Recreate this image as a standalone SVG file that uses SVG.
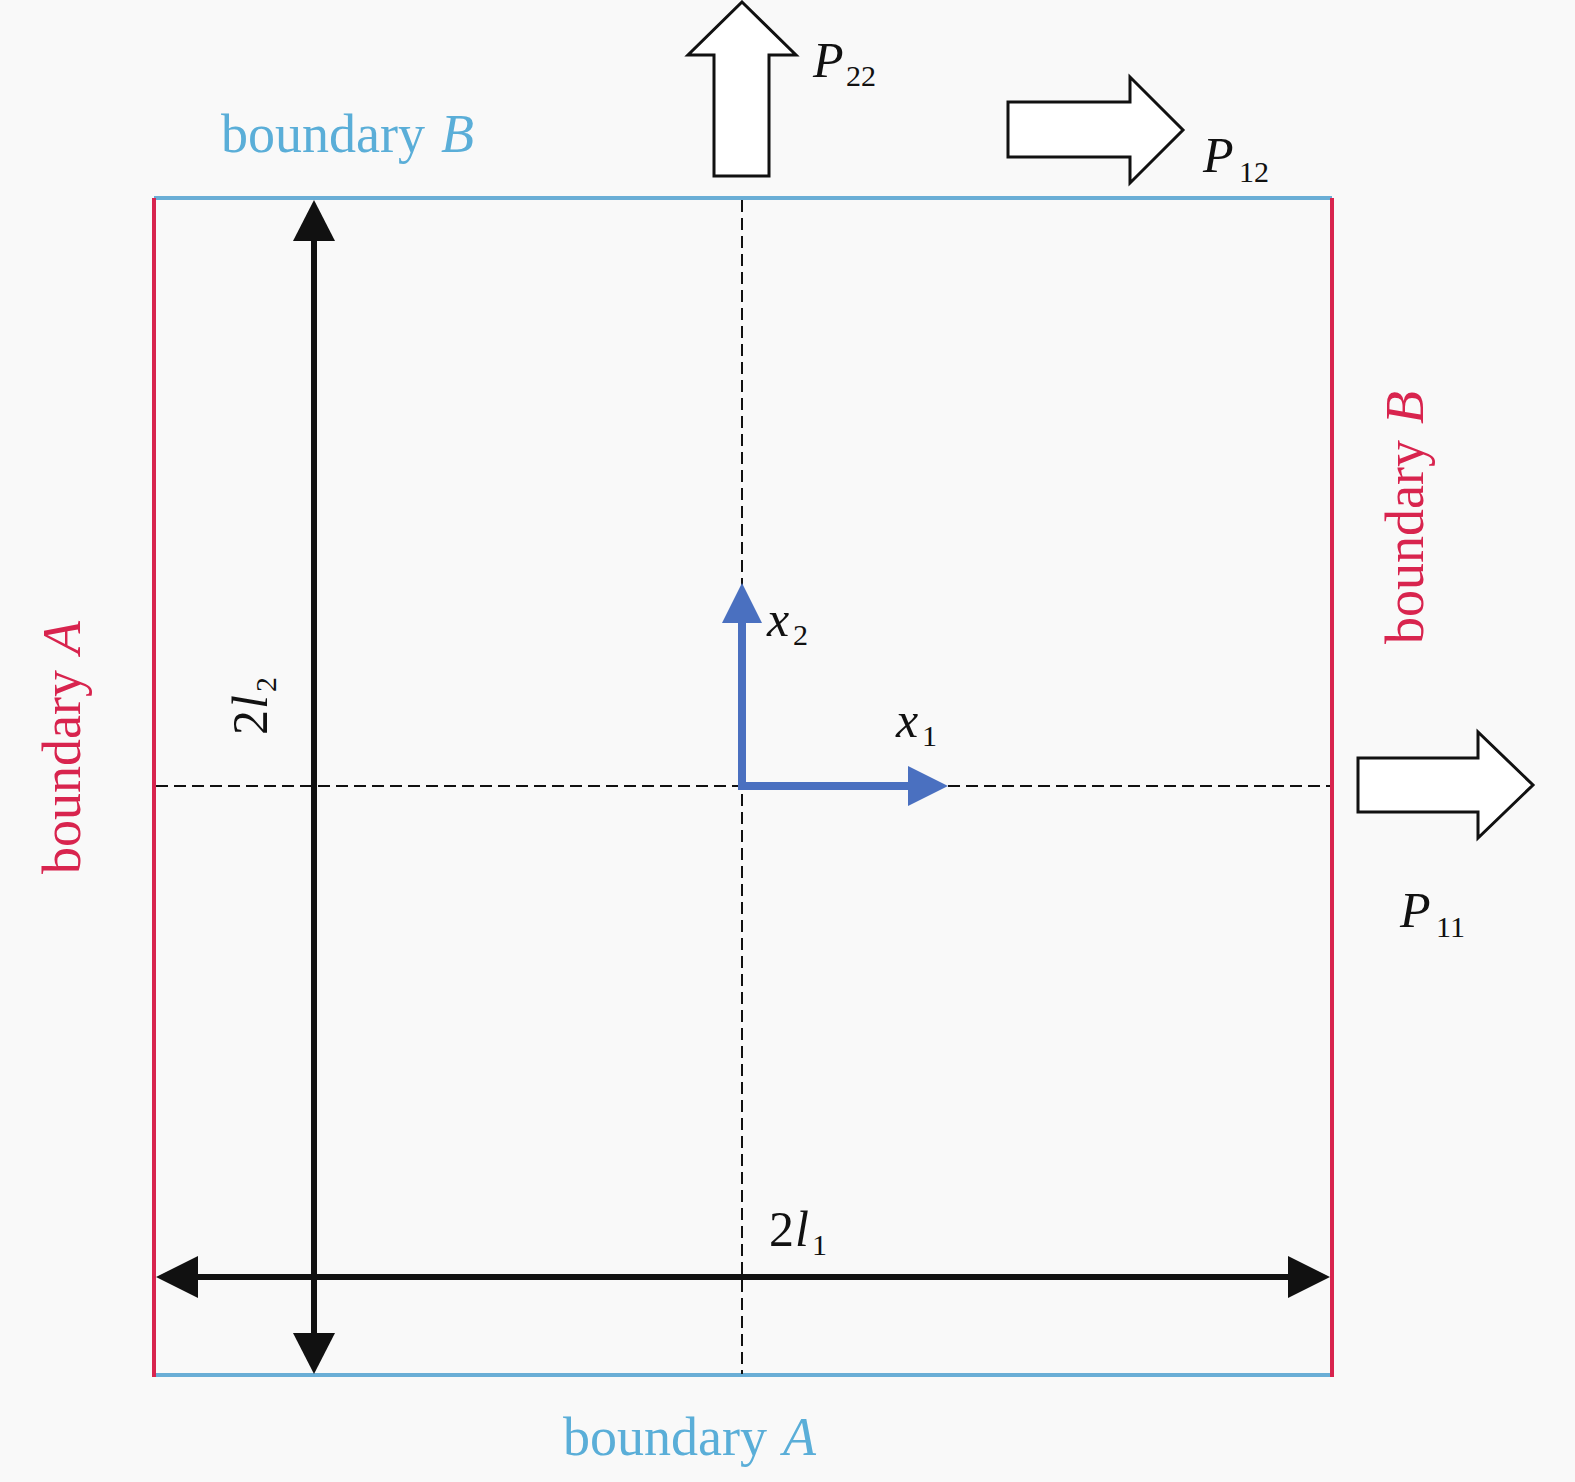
<svg xmlns="http://www.w3.org/2000/svg" width="1575" height="1482" viewBox="0 0 1575 1482">
<defs>
<style>
.dash{stroke:#111;stroke-width:2;stroke-dasharray:12 6;fill:none;}
.hollow{fill:#fff;stroke:#111;stroke-width:3;}
</style>
</defs>
<rect width="1575" height="1482" fill="#f9f9f9"/>
<g id="frame">
<line x1="154" y1="198" x2="1332" y2="198" stroke="#6aaed6" stroke-width="4"/>
<line x1="154" y1="1375" x2="1332" y2="1375" stroke="#6aaed6" stroke-width="4"/>
<line x1="154" y1="198" x2="154" y2="1377" stroke="#d8244e" stroke-width="4"/>
<line x1="1332" y1="198" x2="1332" y2="1377" stroke="#d8244e" stroke-width="4"/>
</g>
<g id="connectors">
<line class="dash" x1="742" y1="200" x2="742" y2="1374"/>
<line class="dash" x1="156" y1="786" x2="1330" y2="786"/>
<line x1="314" y1="236" x2="314" y2="1338" stroke="#111" stroke-width="6"/>
<polygon points="314,200 293,241 335,241" fill="#111"/>
<polygon points="314,1374 293,1333 335,1333" fill="#111"/>
<line x1="194" y1="1277" x2="1292" y2="1277" stroke="#111" stroke-width="6"/>
<polygon points="156,1277 198,1256 198,1298" fill="#111"/>
<polygon points="1330,1277 1288,1256 1288,1298" fill="#111"/>
<polyline points="742,618 742,786 912,786" fill="none" stroke="#4a70c0" stroke-width="8"/>
<polygon points="742,583 722,623 762,623" fill="#4a70c0"/>
<polygon points="948,786 908,766 908,806" fill="#4a70c0"/>
</g>
<g id="load-P22">
<polygon class="hollow" points="742,2 796,55 769,55 769,176 714,176 714,55 688,55"/>
<text x="813" y="77" font-family="Liberation Serif" font-size="50" font-style="italic" fill="#111">P</text>
<text x="846" y="86" font-family="Liberation Serif" font-size="30" fill="#111">22</text>
</g>
<g id="load-P12">
<polygon class="hollow" points="1008,102 1130,102 1130,77 1183,130 1130,183 1130,157 1008,157"/>
<text x="1203" y="172" font-family="Liberation Serif" font-size="50" font-style="italic" fill="#111">P</text>
<text x="1239" y="182" font-family="Liberation Serif" font-size="30" fill="#111">12</text>
</g>
<g id="load-P11">
<polygon class="hollow" points="1358,758 1478,758 1478,732 1533,785 1478,838 1478,812 1358,812"/>
<text x="1400" y="927" font-family="Liberation Serif" font-size="50" font-style="italic" fill="#111">P</text>
<text x="1436" y="937" font-family="Liberation Serif" font-size="30" fill="#111">11</text>
</g>
<g id="axis-labels">
<text x="767" y="636" font-family="Liberation Serif" font-size="50" font-style="italic" fill="#111">x</text>
<text x="793" y="645" font-family="Liberation Serif" font-size="30" fill="#111">2</text>
<text x="896" y="737" font-family="Liberation Serif" font-size="50" font-style="italic" fill="#111">x</text>
<text x="922" y="746" font-family="Liberation Serif" font-size="30" fill="#111">1</text>
<text x="769" y="1246" font-family="Liberation Serif" font-size="50" fill="#111">2</text>
<text x="795" y="1246" font-family="Liberation Serif" font-size="50" font-style="italic" fill="#111">l</text>
<text x="812" y="1255" font-family="Liberation Serif" font-size="30" fill="#111">1</text>
<g transform="translate(267,735) rotate(-90)">
<text x="0" y="0" font-family="Liberation Serif" font-size="50" fill="#111">2</text>
<text x="26" y="0" font-family="Liberation Serif" font-size="50" font-style="italic" fill="#111">l</text>
<text x="43" y="9" font-family="Liberation Serif" font-size="30" fill="#111">2</text>
</g>
</g>
<g id="boundary-labels">
<text x="221" y="152" font-family="Liberation Serif" font-size="54" fill="#5aaed8">boundary</text>
<text x="441" y="152" font-family="Liberation Serif" font-size="54" font-style="italic" fill="#5aaed8">B</text>
<text x="563" y="1455" font-family="Liberation Serif" font-size="54" fill="#5aaed8">boundary</text>
<text x="783" y="1455" font-family="Liberation Serif" font-size="54" font-style="italic" fill="#5aaed8">A</text>
<g transform="translate(80,874) rotate(-90)">
<text x="0" y="0" font-family="Liberation Serif" font-size="54" fill="#d8244e">boundary</text>
<text x="220" y="0" font-family="Liberation Serif" font-size="54" font-style="italic" fill="#d8244e">A</text>
</g>
<g transform="translate(1423,644) rotate(-90)">
<text x="0" y="0" font-family="Liberation Serif" font-size="54" fill="#d8244e">boundary</text>
<text x="220" y="0" font-family="Liberation Serif" font-size="54" font-style="italic" fill="#d8244e">B</text>
</g>
</g>
</svg>
